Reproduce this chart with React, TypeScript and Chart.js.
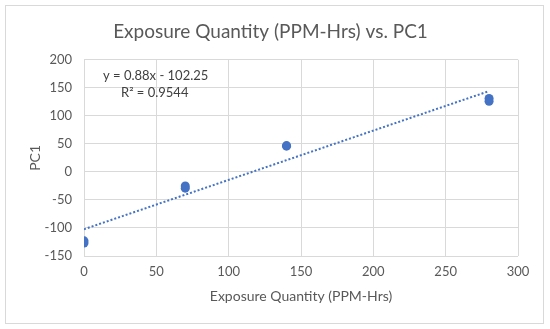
import React, { useEffect, useRef } from "react";
import { Chart, registerables } from "chart.js";

Chart.register(...registerables);

const chartTitle = "Exposure Quantity (PPM-Hrs) vs. PC1";
const xTitle = "Exposure Quantity (PPM-Hrs)";
const yTitle = "PC1";
const exposureX = [0, 0, 70, 70, 140, 140, 280, 280];
const pc1Y = [-123, -127, -25, -29, 46, 47, 126, 131];
const trendX = [0, 280];
const trendY = [-102.25, 144.15];
const equationText = "y = 0.88x - 102.25";
const r2Text = "R² = 0.9544";

const FONT = "Lato, 'Open Sans', sans-serif";
const BLUE = "#4472C4";
const GREY = "#595959";

export default function App() {
  const ref = useRef<HTMLCanvasElement | null>(null);
  useEffect(() => {
    if (!ref.current) return;
    const textPlugin = {
      id: "eqText",
      afterDraw(chart: any) {
        const ctx = chart.ctx;
        ctx.save();
        ctx.fillStyle = "#404040";
        ctx.font = `13px ${FONT}`;
        ctx.textAlign = "left";
        ctx.textBaseline = "middle";
        ctx.fillText(equationText, 103, 76);
        ctx.fillText(r2Text, 121, 93);
        ctx.restore();
      },
    };
    const chart = new Chart(ref.current, {
      type: "scatter",
      data: {
        datasets: [
          {
            label: "PC1",
            data: exposureX.map((x, i) => ({ x, y: pc1Y[i] })),
            backgroundColor: BLUE,
            borderColor: BLUE,
            pointRadius: 4.5,
            pointBorderWidth: 0,
          },
          {
            label: "Linear",
            type: "line",
            data: trendX.map((x, i) => ({ x, y: trendY[i] })),
            borderColor: BLUE,
            borderWidth: 2,
            borderDash: [2, 2],
            pointRadius: 0,
            fill: false,
          },
        ],
      },
      options: {
        animation: false,
        responsive: false,
        maintainAspectRatio: false,
        layout: { padding: { left: 23, right: 32, top: 0, bottom: 20 } },
        plugins: {
          legend: { display: false },
          tooltip: { enabled: false },
          title: {
            display: true,
            text: chartTitle,
            color: GREY,
            font: { family: FONT, size: 19, weight: "normal" },
            padding: { top: 20, bottom: 17 },
          },
        },
        scales: {
          x: {
            type: "linear",
            min: 0,
            max: 300,
            afterFit: (s: any) => { s.height = 53; },
            ticks: { stepSize: 50, color: GREY, font: { family: FONT, size: 13 }, padding: 8 },
            grid: { color: "#d9d9d9", drawTicks: false },
            border: { display: false },
            title: { display: true, text: xTitle, color: GREY, font: { family: FONT, size: 14 } },
          },
          y: {
            type: "linear",
            min: -150,
            max: 200,
            afterFit: (s: any) => { s.width = 61; },
            ticks: { stepSize: 50, color: GREY, font: { family: FONT, size: 13 }, padding: 12 },
            grid: { color: "#d9d9d9", drawTicks: false },
            border: { display: false },
            title: { display: true, text: yTitle, color: GREY, font: { family: FONT, size: 14 } },
          },
        },
      },
      plugins: [textPlugin],
    } as any);
    return () => chart.destroy();
  }, []);
  return (
    <div style={{ position: "fixed", left: 0, top: 0, width: 550, height: 329, background: "#fff" }}>
      <div style={{ position: "absolute", left: 5, top: 5, width: 537, height: 317, border: "1px solid #d9d9d9" }} />
      <canvas ref={ref} width={550} height={329} style={{ position: "absolute", left: 0, top: 0 }} />
    </div>
  );
}
